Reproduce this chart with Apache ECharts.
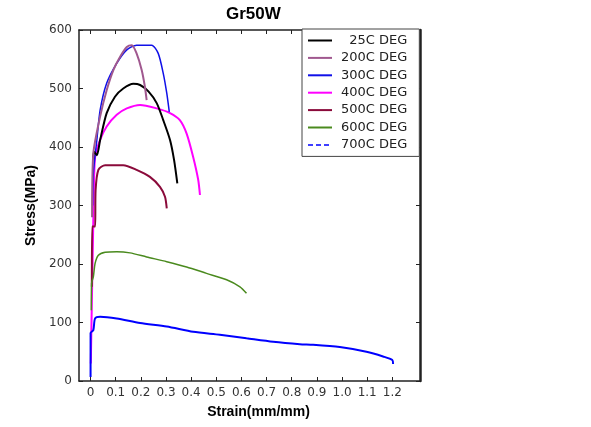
<!DOCTYPE html>
<html>
<head>
<meta charset="utf-8">
<script src="https://cdn.jsdelivr.net/npm/echarts@6/dist/echarts.min.js"></script>
<style>
html,body{margin:0;padding:0;background:#fff;}
#chart{width:591px;height:427px;}
</style>
</head>
<body>
<div id="chart"></div>
<script>
// ---- data ----
const title = 'Gr50W';
const xName = 'Strain(mm/mm)';
const yName = 'Stress(MPa)';
const xTicks = [0, 0.1, 0.2, 0.3, 0.4, 0.5, 0.6, 0.7, 0.8, 0.9, 1.0, 1.1, 1.2];
const xTickLabels = ['0', '0.1', '0.2', '0.3', '0.4', '0.5', '0.6', '0.7', '0.8', '0.9', '1.0', '1.1', '1.2'];
const seriesNames = ['  25C DEG', '200C DEG', '300C DEG', '400C DEG', '500C DEG', '600C DEG', '700C DEG'];

const s25 = [[0.010, 380], [0.014, 392], [0.025, 386], [0.038, 412], [0.064, 458], [0.097, 486], [0.130, 500], [0.170, 508], [0.197, 506], [0.230, 495], [0.263, 475], [0.289, 446], [0.316, 412], [0.332, 378], [0.345, 338]];
const s200 = [[0.006, 280], [0.011, 389], [0.038, 452], [0.064, 497], [0.091, 532], [0.117, 554], [0.144, 571], [0.164, 574], [0.183, 560], [0.203, 532], [0.216, 503], [0.223, 480]];
const s300 = [[0.008, 300], [0.011, 355], [0.025, 412], [0.038, 463], [0.064, 509], [0.104, 543], [0.144, 566], [0.183, 574], [0.243, 574], [0.269, 560], [0.289, 526], [0.303, 492], [0.313, 460]];
const s400 = [[0.001, 30], [0.012, 300], [0.018, 383], [0.038, 412], [0.064, 435], [0.104, 455], [0.144, 466], [0.197, 472], [0.263, 466], [0.316, 458], [0.355, 446], [0.382, 423], [0.408, 383], [0.428, 344], [0.435, 318]];
const s500 = [[0.005, 161], [0.006, 264], [0.018, 264], [0.020, 326], [0.031, 361], [0.058, 369], [0.130, 369], [0.183, 361], [0.236, 349], [0.276, 332], [0.296, 315], [0.303, 295]];
const s600 = [[0.003, 121], [0.004, 167], [0.011, 178], [0.018, 201], [0.031, 215], [0.058, 220], [0.104, 221], [0.157, 219], [0.223, 212], [0.303, 204], [0.382, 195], [0.461, 184], [0.541, 173], [0.594, 161], [0.620, 150]];
const s700 = [[0.000, 7], [0.000, 82], [0.011, 87], [0.018, 107], [0.038, 110], [0.104, 107], [0.197, 99], [0.303, 93], [0.408, 84], [0.514, 79], [0.620, 73], [0.726, 67], [0.832, 63], [0.885, 62], [0.991, 58], [1.097, 50], [1.163, 42], [1.200, 36], [1.203, 29]];

const seriesData = [s25, s200, s300, s400, s500, s600, s700];
const colors = ['#000000', '#a0588f', '#1010e8', '#ff00ff', '#8a0a3a', '#4a8a1e', '#0000ff'];
const widths = [2, 2, 1.5, 2, 2, 1.5, 2];
const zs = [4, 5, 3, 2, 2, 2, 2];

const chart = echarts.init(document.getElementById('chart'), null, {renderer: 'canvas'});
const labelFont = {fontFamily: 'DejaVu Sans', fontSize: 12, color: '#333'};
const axisLineStyle = {color: '#222', width: 1.5};

function xFmt(v) {
  for (let i = 0; i < xTicks.length; i++) if (Math.abs(v - xTicks[i]) < 1e-6) return xTickLabels[i];
  return '';
}

const option = {
  backgroundColor: '#fff',
  animation: false,
  title: {
    text: title, left: 221, top: 1,
    textStyle: {fontFamily: 'Liberation Sans', fontWeight: 'bold', fontSize: 17, color: '#000'}
  },
  grid: {left: 79, right: 171, top: 30, bottom: 46, containLabel: false},
  legend: {
    orient: 'vertical', left: 302, top: 29,
    padding: [5, 12, 5, 5], itemGap: 4.4, itemWidth: 24, itemHeight: 12,
    borderColor: '#444', borderWidth: 1, backgroundColor: '#fff',
    itemStyle: {opacity: 0},
    textStyle: {fontFamily: 'DejaVu Sans', fontSize: 13, color: '#222', padding: [0, 0, 0, 4]},
    data: seriesNames.map((n, i) => i === 6 ? {name: n, lineStyle: {type: [5, 3], width: 1.5}} : {name: n})
  },
  xAxis: [{
    type: 'value', min: -0.046, max: 1.31, position: 'bottom',
    name: xName, nameLocation: 'middle', nameGap: 24,
    nameTextStyle: {fontFamily: 'Liberation Sans', fontWeight: 'bold', fontSize: 14, color: '#000', padding: [0, 0, 0, 18]},
    axisLine: {show: true, onZero: false, lineStyle: axisLineStyle},
    axisTick: {show: true, inside: true, length: 4, customValues: xTicks, lineStyle: {color: '#222'}},
    axisLabel: Object.assign({customValues: xTicks, formatter: xFmt, margin: 6}, labelFont),
    splitLine: {show: false}
  }, {
    type: 'value', min: -0.046, max: 1.31, position: 'top',
    axisLine: {show: true, onZero: false, lineStyle: axisLineStyle},
    axisTick: {show: true, inside: true, length: 4, customValues: xTicks, lineStyle: {color: '#222'}},
    axisLabel: {show: false},
    splitLine: {show: false}
  }],
  yAxis: [{
    type: 'value', min: 0, max: 600, interval: 100, position: 'left',
    name: yName, nameLocation: 'middle', nameGap: 28, nameRotate: 90,
    nameTextStyle: {fontFamily: 'Liberation Sans', fontWeight: 'bold', fontSize: 14, color: '#000'},
    axisLine: {show: true, onZero: false, lineStyle: axisLineStyle},
    axisTick: {show: true, inside: true, length: 4, lineStyle: {color: '#222'}},
    axisLabel: Object.assign({margin: 7}, labelFont),
    splitLine: {show: false}
  }, {
    type: 'value', min: 0, max: 600, interval: 100, position: 'right',
    axisLine: {show: true, onZero: false, lineStyle: {color: '#222', width: 2.5}},
    axisTick: {show: true, inside: true, length: 4, lineStyle: {color: '#222'}},
    axisLabel: {show: false},
    splitLine: {show: false}
  }],
  series: seriesNames.map((n, i) => ({
    name: n, type: 'line', xAxisIndex: 0, yAxisIndex: 0,
    data: seriesData[i], symbol: 'none', smooth: 0.25, z: zs[i],
    lineStyle: {color: colors[i], width: widths[i]},
    itemStyle: {color: colors[i]}
  }))
};
chart.setOption(option);
</script>
</body>
</html>
